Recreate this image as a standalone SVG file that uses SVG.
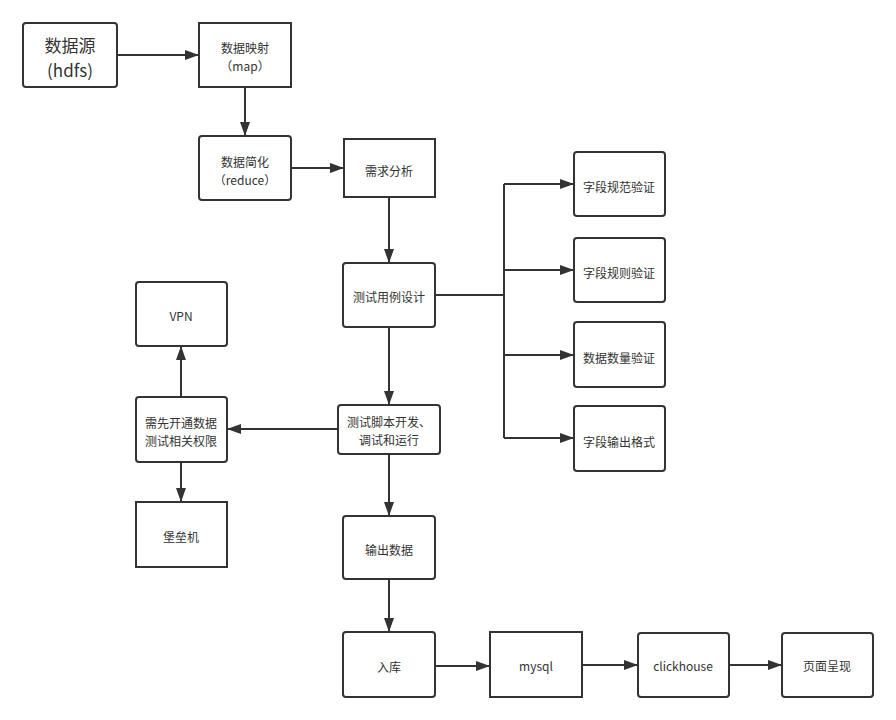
<svg xmlns="http://www.w3.org/2000/svg" width="896" height="720" viewBox="0 0 896 720">
<defs>
<marker id="ah" markerUnits="userSpaceOnUse" markerWidth="14" markerHeight="10" refX="14" refY="5" orient="auto">
<path d="M0,0 L14,5 L0,10 z" fill="#333"/>
</marker>
<style>
.box{fill:#fff;stroke:#333;stroke-width:2}
.t{font-family:"Noto Sans CJK SC","Liberation Sans",sans-serif;font-size:12px;fill:#333;text-anchor:middle;dominant-baseline:central}
.big{font-size:17px}
.c{fill:none;stroke:#333;stroke-width:2}
</style>
</defs>
<rect width="896" height="720" fill="#fff"/>
<g id="connectors">
<path class="c" d="M117,55 H199" marker-end="url(#ah)"/>
<path class="c" d="M245,87 V136" marker-end="url(#ah)"/>
<path class="c" d="M291,168 H344" marker-end="url(#ah)"/>
<path class="c" d="M389,197 V263" marker-end="url(#ah)"/>
<path class="c" d="M435,295 H504"/>
<path class="c" d="M504,184 V438"/>
<path class="c" d="M504,184 H574" marker-end="url(#ah)"/>
<path class="c" d="M504,270 H574" marker-end="url(#ah)"/>
<path class="c" d="M504,355 H574" marker-end="url(#ah)"/>
<path class="c" d="M504,438 H574" marker-end="url(#ah)"/>
<path class="c" d="M389,327 V405" marker-end="url(#ah)"/>
<path class="c" d="M338,429 H227" marker-end="url(#ah)"/>
<path class="c" d="M181,397 V346" marker-end="url(#ah)"/>
<path class="c" d="M181,462 V502" marker-end="url(#ah)"/>
<path class="c" d="M389,454 V516" marker-end="url(#ah)"/>
<path class="c" d="M389,579 V632" marker-end="url(#ah)"/>
<path class="c" d="M435,666 H490" marker-end="url(#ah)"/>
<path class="c" d="M582,665 H638" marker-end="url(#ah)"/>
<path class="c" d="M729,665 H782" marker-end="url(#ah)"/>
</g>
<g id="n-source"><rect class="box" x="23" y="23" width="94" height="64" rx="3"/><text class="t big" x="70" y="44">数据源</text><text class="t big" x="70" y="69">(hdfs)</text></g>
<g id="n-map"><rect class="box" x="199" y="23" width="92" height="64"/><text class="t" x="245" y="47.5">数据映射</text><text class="t" x="245" y="65.5">（map）</text></g>
<g id="n-reduce"><rect class="box" x="199" y="136" width="92" height="64" rx="3"/><text class="t" x="245" y="161.5">数据简化</text><text class="t" x="245" y="179.5">（reduce）</text></g>
<g id="n-req"><rect class="box" x="344" y="139" width="91" height="58"/><text class="t" x="389" y="170">需求分析</text></g>
<g id="n-case"><rect class="box" x="343" y="263" width="92" height="64" rx="3"/><text class="t" x="389" y="296">测试用例设计</text></g>
<g id="n-spec"><rect class="box" x="574" y="152" width="91" height="64" rx="3"/><text class="t" x="619" y="186">字段规范验证</text></g>
<g id="n-rule"><rect class="box" x="574" y="238" width="91" height="64" rx="3"/><text class="t" x="619" y="272">字段规则验证</text></g>
<g id="n-count"><rect class="box" x="574" y="322" width="91" height="65" rx="3"/><text class="t" x="619" y="357">数据数量验证</text></g>
<g id="n-format"><rect class="box" x="574" y="406" width="91" height="65" rx="3"/><text class="t" x="619" y="441">字段输出格式</text></g>
<g id="n-script"><rect class="box" x="338" y="405" width="102" height="49" rx="3"/><text class="t" x="389" y="421.5">测试脚本开发、</text><text class="t" x="389" y="439.5">调试和运行</text></g>
<g id="n-vpn"><rect class="box" x="136" y="282" width="91" height="64" rx="3"/><text class="t" x="181" y="315">VPN</text></g>
<g id="n-perm"><rect class="box" x="136" y="397" width="91" height="65" rx="3"/><text class="t" x="181" y="422.5">需先开通数据</text><text class="t" x="181" y="440.5">测试相关权限</text></g>
<g id="n-bastion"><rect class="box" x="136" y="502" width="91" height="65"/><text class="t" x="181" y="536">堡垒机</text></g>
<g id="n-output"><rect class="box" x="343" y="516" width="92" height="63" rx="3"/><text class="t" x="389" y="549">输出数据</text></g>
<g id="n-store"><rect class="box" x="343" y="632" width="92" height="65" rx="3"/><text class="t" x="389" y="666">入库</text></g>
<g id="n-mysql"><rect class="box" x="490" y="632" width="92" height="65"/><text class="t" x="536" y="665">mysql</text></g>
<g id="n-ch"><rect class="box" x="638" y="633" width="91" height="64" rx="3"/><text class="t" x="683" y="665">clickhouse</text></g>
<g id="n-page"><rect class="box" x="782" y="633" width="91" height="64" rx="3"/><text class="t" x="827" y="665">页面呈现</text></g>
</svg>
